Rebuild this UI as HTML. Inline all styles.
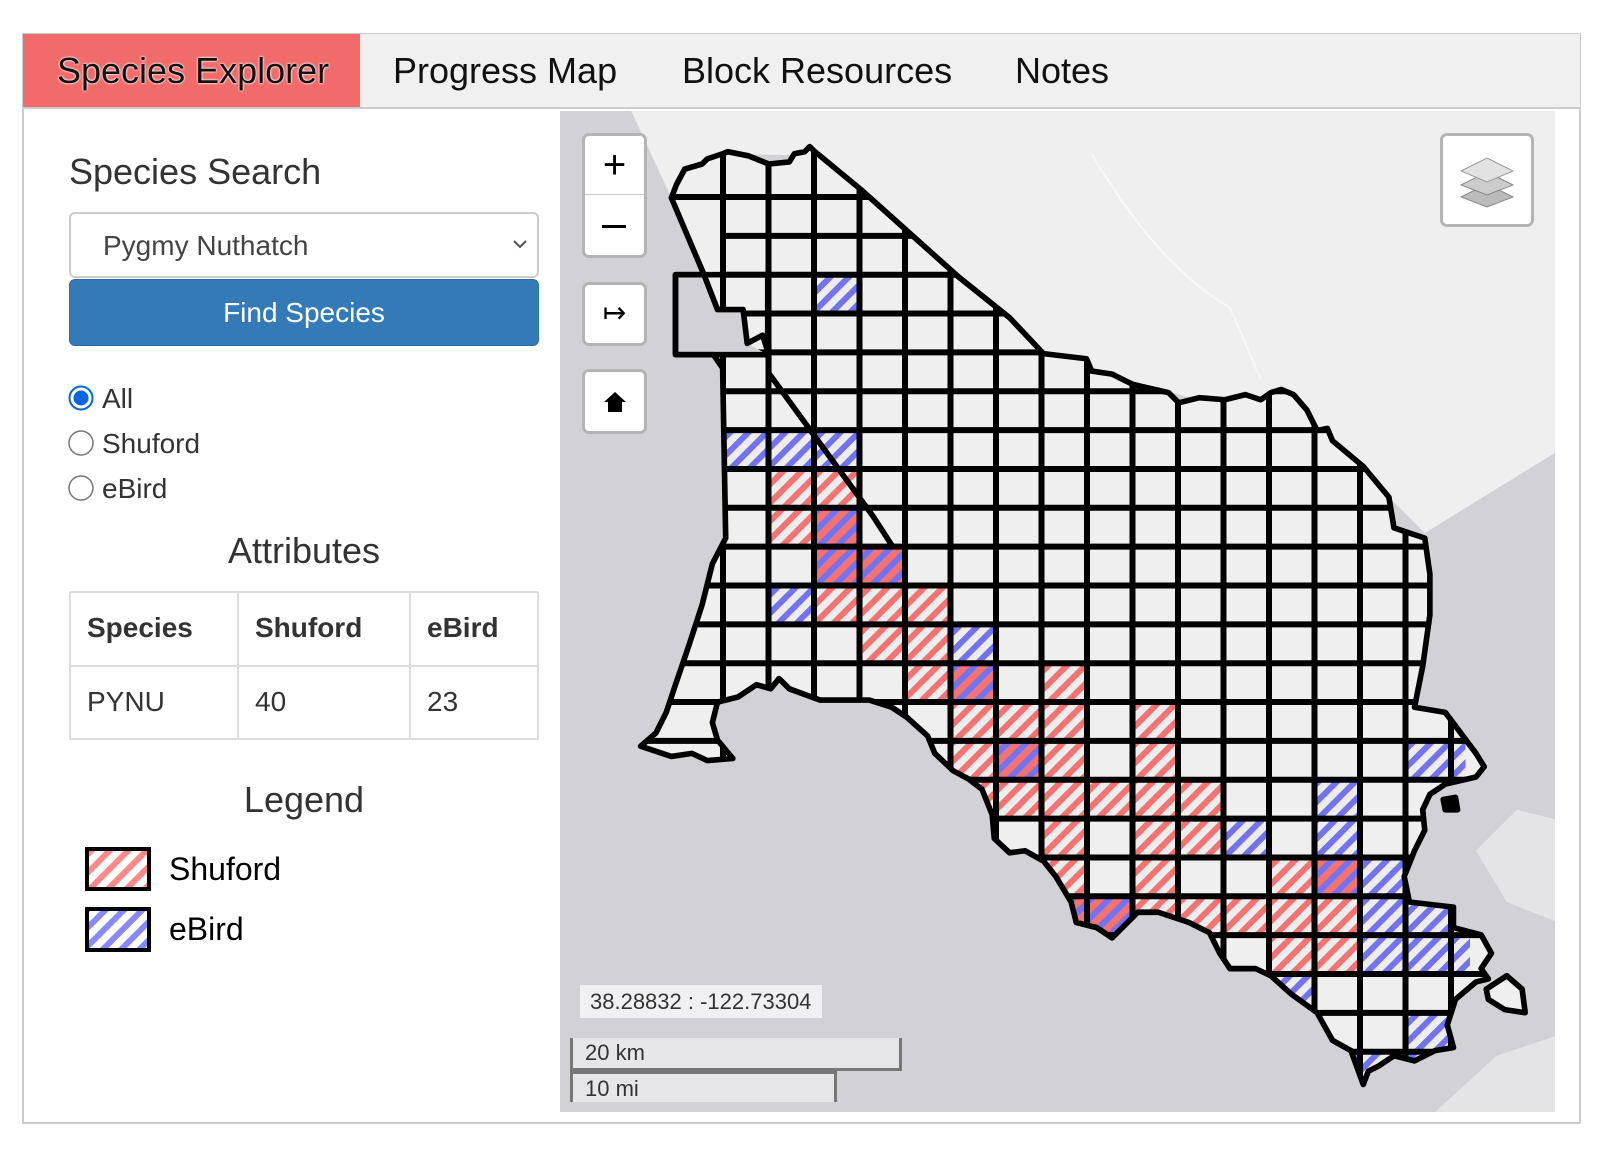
<!DOCTYPE html>
<html><head><meta charset="utf-8"><style>
*{margin:0;padding:0;box-sizing:border-box}
body{width:1607px;height:1150px;background:#fff;position:relative;overflow:hidden;font-family:"Liberation Sans",Arial,sans-serif;color:#333}
.a{position:absolute}
.tab{position:absolute;top:50px;font-size:36px;color:#111;white-space:nowrap}
.ctl{position:absolute;left:582px;width:65px;background:#fff;border:3px solid #b4b4b4;border-radius:7px}
</style></head><body>
<div class="a" style="left:22px;top:33px;width:1559px;height:1091px;border:2px solid #ccc"></div>
<div class="a" style="left:23px;top:34px;width:1557px;height:75px;background:#f0f0f0;border-bottom:2px solid #ccc"></div>
<div class="a" style="left:23px;top:34px;width:337px;height:73px;background:#f26b6b"></div>
<div class="tab" style="left:57px;text-shadow:0 0 2px #fff,0 0 2px #fff">Species Explorer</div>
<div class="tab" style="left:393px">Progress Map</div>
<div class="tab" style="left:682px">Block Resources</div>
<div class="tab" style="left:1015px">Notes</div>

<div class="a" style="left:69px;top:151px;font-size:36px">Species Search</div>
<div class="a" style="left:69px;top:212px;width:470px;height:66px;border:2px solid #ccc;border-radius:6px;background:#fff"></div>
<div class="a" style="left:103px;top:230px;font-size:28px;color:#444">Pygmy Nuthatch</div>
<svg class="a" style="left:512px;top:238px" width="16" height="12"><path d="M2 3 L8 9 L14 3" fill="none" stroke="#555" stroke-width="2"/></svg>
<div class="a" style="left:69px;top:279px;width:470px;height:67px;background:#337ab7;border:1px solid #2e6da4;border-radius:6px;color:#fff;font-size:28px;text-align:center;line-height:65px">Find Species</div>
<svg class="a" style="left:66px;top:383px" width="32" height="120">
<circle cx="15" cy="15" r="11.5" fill="#fff" stroke="#0a66e0" stroke-width="2"/><circle cx="15" cy="15" r="7.5" fill="#0a66e0"/>
<circle cx="15" cy="60" r="12" fill="#fff" stroke="#777" stroke-width="1.5"/>
<circle cx="15" cy="105" r="12" fill="#fff" stroke="#777" stroke-width="1.5"/></svg>
<div class="a" style="left:102px;top:383px;font-size:28px;line-height:32px">All</div>
<div class="a" style="left:102px;top:428px;font-size:28px;line-height:32px">Shuford</div>
<div class="a" style="left:102px;top:473px;font-size:28px;line-height:32px">eBird</div>
<div class="a" style="left:69px;top:530px;width:470px;text-align:center;font-size:36px">Attributes</div>
<div class="a" style="left:69px;top:591px;width:470px;height:149px;border:2px solid #ddd"></div>
<div class="a" style="left:69px;top:665px;width:470px;height:2px;background:#ddd"></div>
<div class="a" style="left:237px;top:591px;width:2px;height:149px;background:#ddd"></div>
<div class="a" style="left:409px;top:591px;width:2px;height:149px;background:#ddd"></div>
<div class="a" style="left:87px;top:612px;font-size:28px;font-weight:bold">Species</div>
<div class="a" style="left:255px;top:612px;font-size:28px;font-weight:bold">Shuford</div>
<div class="a" style="left:427px;top:612px;font-size:28px;font-weight:bold">eBird</div>
<div class="a" style="left:87px;top:686px;font-size:28px">PYNU</div>
<div class="a" style="left:255px;top:686px;font-size:28px">40</div>
<div class="a" style="left:427px;top:686px;font-size:28px">23</div>
<div class="a" style="left:69px;top:779px;width:470px;text-align:center;font-size:36px">Legend</div>
<svg class="a" style="left:0;top:0" width="1607" height="1150">
<defs>
<pattern id="pr" width="13" height="13" patternUnits="userSpaceOnUse" patternTransform="rotate(45)"><rect width="13" height="13" fill="#ededed"/><rect width="6" height="13" fill="#f47272"/></pattern>
<pattern id="pb" width="13" height="13" patternUnits="userSpaceOnUse" patternTransform="rotate(45)"><rect width="13" height="13" fill="#ededed"/><rect width="6" height="13" fill="#7373f2"/></pattern>
<pattern id="pm" width="13" height="13" patternUnits="userSpaceOnUse" patternTransform="rotate(45)"><rect width="13" height="13" fill="#f47272"/><rect width="6" height="13" fill="#7373f2"/></pattern>
<pattern id="lr" width="13" height="13" patternUnits="userSpaceOnUse" patternTransform="rotate(45)"><rect width="13" height="13" fill="#fff"/><rect width="6" height="13" fill="#f88"/></pattern>
<pattern id="lb" width="13" height="13" patternUnits="userSpaceOnUse" patternTransform="rotate(45)"><rect width="13" height="13" fill="#fff"/><rect width="6" height="13" fill="#88f"/></pattern>
<clipPath id="mapclip"><rect x="560" y="111" width="995" height="1001"/></clipPath>
<clipPath id="cty"><polygon transform="scale(1.025)" points="655,193 660,180 668,165 685,160 690,155 705,150 710,148 730,152 750,160 770,158 775,150 785,148 790,143 795,148 800,152 840,185 935,270 985,310 1018,345 1060,350 1065,362 1085,365 1105,375 1140,383 1150,393 1170,388 1195,390 1215,385 1230,390 1240,383 1250,380 1262,385 1275,400 1285,420 1295,418 1300,430 1330,455 1355,485 1360,515 1390,525 1395,560 1395,600 1388,650 1380,690 1410,695 1440,735 1448,748 1440,758 1410,765 1395,775 1388,790 1390,810 1380,830 1370,855 1375,880 1418,885 1418,905 1445,912 1455,930 1445,945 1452,955 1440,958 1420,975 1412,1000 1418,1022 1400,1025 1380,1035 1360,1030 1345,1040 1335,1045 1330,1058 1318,1025 1300,1015 1285,988 1260,970 1240,952 1225,945 1200,945 1190,930 1180,910 1160,900 1130,890 1110,890 1095,905 1085,915 1070,905 1050,900 1045,880 1030,855 1018,840 1000,830 985,832 970,818 968,795 958,770 945,760 930,752 912,735 905,718 885,700 870,690 848,683 800,683 770,672 760,662 752,672 738,668 720,680 700,685 695,705 700,722 715,740 690,742 675,735 655,738 640,733 625,728 640,715 650,695 660,665 672,630 685,590 695,550 708,525 705,359 696,346 749,346 729,335 725,302 700,302 686,266"/></clipPath>
</defs>
<rect x="87" y="849" width="62" height="40" fill="url(#lr)" stroke="#000" stroke-width="4"/>
<rect x="87" y="909" width="62" height="41" fill="url(#lb)" stroke="#000" stroke-width="4"/>
<g clip-path="url(#mapclip)">
<rect x="560" y="111" width="995" height="1001" fill="#d2d2d6"/>
<g transform="scale(1.025)">
<polygon fill="#efefef" points="612,100 1520,100 1520,440 1390,520 1355,485 1300,430 1018,345 800,152 705,150 655,193"/>
<polygon fill="#e4e4e6" points="1440,830 1480,790 1520,800 1520,900 1470,880"/>
<polygon fill="#e4e4e6" points="1400,1085 1460,1030 1520,1010 1520,1090 1400,1090"/>
<path d="M1065 150 Q1130 260 1200 300 L1230 370" stroke="#f8f8f8" stroke-width="2" fill="none"/>
</g>
<g clip-path="url(#cty)">
<rect x="560" y="111" width="995" height="1001" fill="#efefef"/>
<g>
<rect x="814" y="274.7" width="45.5" height="38.85" fill="url(#pb)"/>
<rect x="723" y="430.1" width="136.5" height="38.85" fill="url(#pb)"/>
<rect x="768.5" y="468.95" width="91" height="38.85" fill="url(#pr)"/>
<rect x="768.5" y="507.8" width="45.5" height="38.85" fill="url(#pr)"/>
<rect x="814" y="507.8" width="45.5" height="38.85" fill="url(#pm)"/>
<rect x="814" y="546.65" width="91" height="38.85" fill="url(#pm)"/>
<rect x="768.5" y="585.5" width="45.5" height="38.85" fill="url(#pb)"/>
<rect x="814" y="585.5" width="136.5" height="38.85" fill="url(#pr)"/>
<rect x="859.5" y="624.35" width="91" height="38.85" fill="url(#pr)"/>
<rect x="950.5" y="624.35" width="45.5" height="38.85" fill="url(#pb)"/>
<rect x="905" y="663.2" width="45.5" height="38.85" fill="url(#pr)"/>
<rect x="950.5" y="663.2" width="45.5" height="38.85" fill="url(#pm)"/>
<rect x="1041.5" y="663.2" width="45.5" height="38.85" fill="url(#pr)"/>
<rect x="950.5" y="702.05" width="136.5" height="38.85" fill="url(#pr)"/>
<rect x="1132.5" y="702.05" width="45.5" height="38.85" fill="url(#pr)"/>
<rect x="950.5" y="740.9" width="45.5" height="38.85" fill="url(#pr)"/>
<rect x="996" y="740.9" width="45.5" height="38.85" fill="url(#pm)"/>
<rect x="1041.5" y="740.9" width="45.5" height="38.85" fill="url(#pr)"/>
<rect x="1132.5" y="740.9" width="45.5" height="38.85" fill="url(#pr)"/>
<rect x="1405.5" y="740.9" width="60" height="38.85" fill="url(#pb)"/>
<rect x="950.5" y="779.75" width="273" height="38.85" fill="url(#pr)"/>
<rect x="1314.5" y="779.75" width="45.5" height="38.85" fill="url(#pb)"/>
<rect x="1041.5" y="818.6" width="45.5" height="38.85" fill="url(#pr)"/>
<rect x="1132.5" y="818.6" width="91" height="38.85" fill="url(#pr)"/>
<rect x="1223.5" y="818.6" width="45.5" height="38.85" fill="url(#pb)"/>
<rect x="1314.5" y="818.6" width="45.5" height="38.85" fill="url(#pb)"/>
<rect x="1041.5" y="857.45" width="45.5" height="38.85" fill="url(#pr)"/>
<rect x="1132.5" y="857.45" width="45.5" height="38.85" fill="url(#pr)"/>
<rect x="1269" y="857.45" width="45.5" height="38.85" fill="url(#pr)"/>
<rect x="1314.5" y="857.45" width="45.5" height="38.85" fill="url(#pm)"/>
<rect x="1360" y="857.45" width="45.5" height="38.85" fill="url(#pb)"/>
<rect x="1060" y="896.3" width="72.5" height="45" fill="url(#pm)"/>
<rect x="1132.5" y="896.3" width="227.5" height="38.85" fill="url(#pr)"/>
<rect x="1360" y="896.3" width="91" height="38.85" fill="url(#pb)"/>
<rect x="1269" y="935.15" width="91" height="38.85" fill="url(#pr)"/>
<rect x="1360" y="935.15" width="110" height="38.85" fill="url(#pb)"/>
<rect x="1230" y="974" width="84.5" height="38.85" fill="url(#pb)"/>
<rect x="1405.5" y="1012.85" width="45.5" height="38.85" fill="url(#pb)"/>
<rect x="1314.5" y="1051.7" width="110" height="40" fill="url(#pb)"/>
</g>
<path fill="none" stroke="#000" stroke-width="6" d="M723 140V1090M768.5 140V1090M814 140V1090M859.5 140V1090M905 140V1090M950.5 140V1090M996 140V1090M1041.5 140V1090M1087 140V1090M1132.5 140V1090M1178 140V1090M1223.5 140V1090M1269 140V1090M1314.5 140V1090M1360 140V1090M1405.5 140V1090M1451 140V1090
M600 197H1500M723 235.85H1500M723 274.7H1500M723 313.55H1500M600 352.4H1500M723 391.25H1500M723 430.1H1500M723 468.95H1500M723 507.8H1500M600 546.65H1500M600 585.5H1500M600 624.35H1500M600 663.2H1500M600 702.05H1500M600 740.9H1500M600 779.75H1500M600 818.6H1500M600 857.45H1500M600 896.3H1500M600 935.15H1500M600 974H1500M600 1012.85H1500M600 1051.7H1500"/>
</g>
<g transform="scale(1.025)" fill="none" stroke="#000" stroke-width="5.5" stroke-linejoin="round">
<polygon points="655,193 660,180 668,165 685,160 690,155 705,150 710,148 730,152 750,160 770,158 775,150 785,148 790,143 795,148 800,152 840,185 935,270 985,310 1018,345 1060,350 1065,362 1085,365 1105,375 1140,383 1150,393 1170,388 1195,390 1215,385 1230,390 1240,383 1250,380 1262,385 1275,400 1285,420 1295,418 1300,430 1330,455 1355,485 1360,515 1390,525 1395,560 1395,600 1388,650 1380,690 1410,695 1440,735 1448,748 1440,758 1410,765 1395,775 1388,790 1390,810 1380,830 1370,855 1375,880 1418,885 1418,905 1445,912 1455,930 1445,945 1452,955 1440,958 1420,975 1412,1000 1418,1022 1400,1025 1380,1035 1360,1030 1345,1040 1335,1045 1330,1058 1318,1025 1300,1015 1285,988 1260,970 1240,952 1225,945 1200,945 1190,930 1180,910 1160,900 1130,890 1110,890 1095,905 1085,915 1070,905 1050,900 1045,880 1030,855 1018,840 1000,830 985,832 970,818 968,795 958,770 945,760 930,752 912,735 905,718 885,700 870,690 848,683 800,683 770,672 760,662 752,672 738,668 720,680 700,685 695,705 700,722 715,740 690,742 675,735 655,738 640,733 625,728 640,715 650,695 660,665 672,630 685,590 695,550 708,525 705,359 696,346 659,346 659,268 686,268 686,266"/>
<rect x="659" y="268" width="90" height="78"/>
<polyline points="686,266 700,302 725,302 729,335 744,327 750,346 750,364 852,504 872,535"/>
<polygon fill="#000" points="1408,780 1420,778 1422,790 1410,790"/>
<polygon fill="#efefef" points="1450,965 1470,952 1485,965 1488,988 1468,985 1452,975"/>
</g>
</g>
</svg>
<div class="ctl" style="top:133px;height:125px"></div>
<div class="a" style="left:585px;top:194px;width:59px;height:1px;background:#ccc"></div>
<div class="a" style="left:582px;top:140px;width:65px;text-align:center;font-size:40px;line-height:50px;color:#000">+</div>
<div class="a" style="left:602px;top:225px;width:24px;height:3px;background:#000"></div>
<div class="ctl" style="top:282px;height:64px"></div>
<div class="a" style="left:582px;top:296px;width:65px;text-align:center;font-size:28px;color:#000">↦</div>
<div class="ctl" style="top:369px;height:65px"></div>
<svg class="a" style="left:603px;top:390px" width="24" height="24"><path d="M12 2 L23 12 L19 12 L19 22 L5 22 L5 12 L1 12 Z" fill="#000"/></svg>
<div class="ctl" style="left:1440px;top:133px;width:94px;height:94px"></div>
<svg class="a" style="left:1458px;top:152px" width="58" height="56">
<path d="M29 32 L55 45 L29 55 L3 45 Z" fill="#bbb" stroke="#888"/>
<path d="M29 20 L55 33 L29 43 L3 33 Z" fill="#ccc" stroke="#888"/>
<path d="M29 6 L55 19 L29 30 L3 19 Z" fill="#e2e2e2" stroke="#999"/></svg>
<div class="a" style="left:580px;top:985px;width:242px;height:33px;background:#f0f0f2;font-size:22px;line-height:33px;padding-left:10px;color:#333;white-space:nowrap">38.28832 : -122.73304</div>
<div class="a" style="left:570px;top:1038px;width:332px;height:33px;background:#e6e6e8;border:3px solid #777;border-top:none;font-size:22px;line-height:30px;padding-left:12px;color:#333">20 km</div>
<div class="a" style="left:570px;top:1071px;width:267px;height:31px;background:#e6e6e8;border:3px solid #777;border-bottom:none;font-size:22px;line-height:30px;padding-left:12px;color:#333">10 mi</div>
<div class="a" style="left:169px;top:851px;font-size:32px;color:#000">Shuford</div>
<div class="a" style="left:169px;top:911px;font-size:32px;color:#000">eBird</div>
</body></html>
